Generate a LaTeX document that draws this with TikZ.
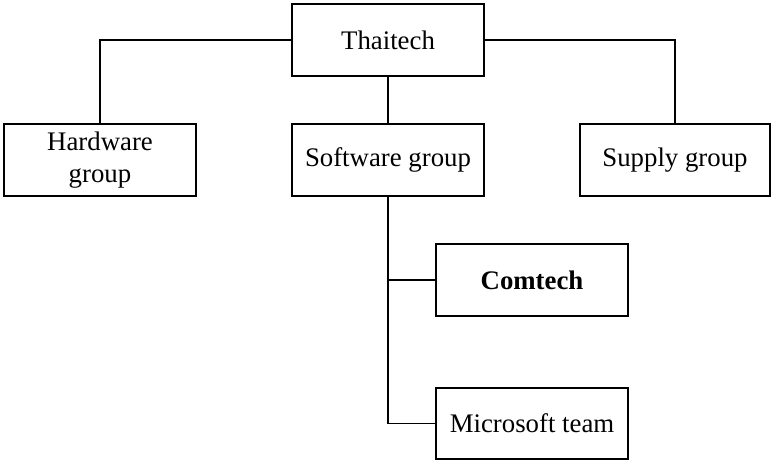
\documentclass[tikz,border=0pt]{standalone}
\usepackage{fontspec}
\setmainfont{Liberation Serif}
\begin{document}
\begin{tikzpicture}[x=1bp,y=-1bp,
  unit/.style={draw,line width=1.3bp,minimum width=192bp,minimum height=72bp,
    inner sep=0pt,align=center,font=\fontsize{26.8bp}{31.5bp}\selectfont},
  link/.style={line width=1.3bp}]
\useasboundingbox (0,0) rectangle (773,461);
\node[unit] (thai) at (388,40) {Thaitech};
\node[unit] (hw) at (100,160) {Hardware\\group};
\node[unit] (sw) at (388,160) {Software group};
\node[unit,minimum width=190bp] (sup) at (675,160) {Supply group};
\node[unit] (com) at (532,280) {\bfseries Comtech};
\node[unit,minimum height=71bp] (ms) at (532,423.5) {Microsoft team};
\draw[link] (thai.west) -| (hw.north);
\draw[link] (thai.east) -| (sup.north);
\draw[link] (thai.south) -- (sw.north);
\draw[link] (sw.south) |- (com.west);
\draw[link] (sw.south) |- (ms.west);
\end{tikzpicture}
\end{document}
